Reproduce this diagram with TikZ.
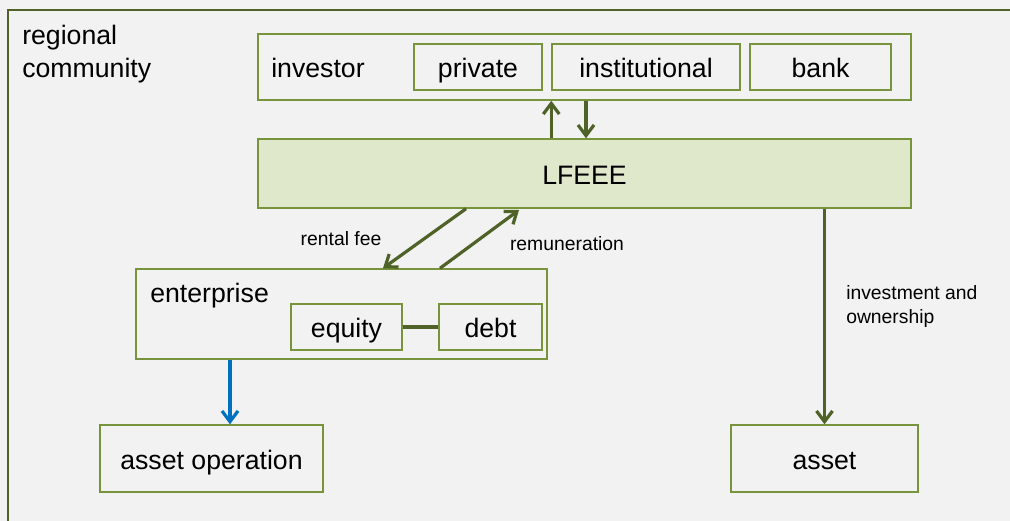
\documentclass[tikz,border=0pt]{standalone}
\usepackage{fontspec}
\setmainfont{Liberation Sans}
\usetikzlibrary{arrows.meta}
\definecolor{bgc}{HTML}{F2F2F2}
\definecolor{boxc}{HTML}{77933C}
\definecolor{arrc}{HTML}{4F6228}
\definecolor{lfc}{RGB}{224,232,204}
\definecolor{bluec}{HTML}{0070C0}
\begin{document}
\begin{tikzpicture}[x=0.75pt,y=-0.75pt,font=\fontsize{20}{24}\selectfont,
  box/.style={draw=boxc,line width=1.1pt,inner sep=0pt,text height=15.75pt,text depth=0pt},
  arr/.style={draw=arrc,line width=2.4pt,-{Straight Barb[length=8pt,width=12pt]}},
  lab/.style={font=\fontsize{14.5}{18}\selectfont,inner sep=0pt}]

\useasboundingbox (0,0) rectangle (1010,521);
\fill[bgc] (0,0) rectangle (1010,521);
\clip (0,0) rectangle (1010,521);
\draw[arrc,line width=0.8pt] (1030,10) -- (8,10) -- (8,540);
\node[anchor=west,align=left,inner sep=0pt,font=\fontsize{20}{24.75}\selectfont] (reg) at (22,54) {regional\\community};

\node[box,minimum width=489.75pt,minimum height=49.5pt] (inv) at (584.5,67) {};
\node[anchor=base west,inner sep=0pt] (invl) at (271,77) {investor};
\node[box,minimum width=96pt,minimum height=34.5pt] (priv) at (478,67) {private};
\node[box,minimum width=141pt,minimum height=34.5pt] (inst) at (646,67) {institutional};
\node[box,minimum width=105.75pt,minimum height=34.5pt] (bank) at (820.5,67) {bank};

\node[box,fill=lfc,minimum width=489.75pt,minimum height=51.75pt] (lfeee) at (584.5,173.5) {LFEEE};

\node[box,minimum width=308.25pt,minimum height=67.5pt] (ent) at (341.5,314) {};
\node[anchor=base west,inner sep=0pt] (entl) at (150,302) {enterprise};
\node[box,minimum width=83.25pt,minimum height=34.5pt] (eq) at (346.5,327) {equity};
\node[box,minimum width=77.25pt,minimum height=34.5pt] (debt) at (490.5,327) {debt};

\node[box,minimum width=167.25pt,minimum height=50.25pt] (aop) at (211.5,458.5) {asset operation};
\node[box,minimum width=140.25pt,minimum height=50.25pt] (asset) at (824.5,458.5) {asset};

\draw[arr] (lfeee.north -| inst.west) -- (inv.south -| inst.west);
\draw[arr] (inv.south -| 586,0) -- (lfeee.north -| 586,0);
\draw[arr] (lfeee.south -| 466,0) -- (ent.north -| 383,0);
\draw[arr] (ent.north -| 440,0) -- (519,210);
\draw[arr,draw=bluec] (ent.south -| 230,0) -- (aop.north -| 230,0);
\draw[arr] (lfeee.south -| asset.north) -- (asset.north);
\draw[draw=arrc,line width=2.5pt] (eq) -- (debt);

\node[lab] (rent) at (341,239) {rental fee};
\node[lab] (rem) at (567,244) {remuneration};
\node[lab,anchor=west,align=left] (invown) at (846,306) {investment and\\ownership};

\end{tikzpicture}
\end{document}
